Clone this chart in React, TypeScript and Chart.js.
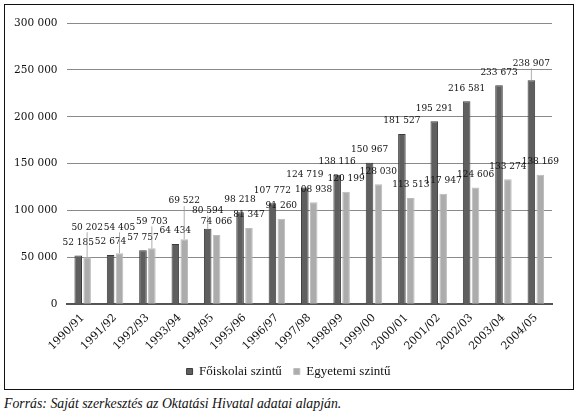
import React, { useEffect, useRef } from "react";
import { Chart, registerables } from "chart.js";

Chart.register(...registerables);

const categories = [
  "1990/91", "1991/92", "1992/93", "1993/94", "1994/95", "1995/96", "1996/97", "1997/98",
  "1998/99", "1999/00", "2000/01", "2001/02", "2002/03", "2003/04", "2004/05",
];
const foiskolai = [
  52185, 52674, 57757, 64434, 80594, 98218, 107772, 124719, 138116, 150967, 181527, 195291,
  216581, 233673, 238907,
];
const egyetemi = [
  50202, 54405, 59703, 69522, 74066, 81347, 91260, 108938, 120199, 128030, 113513, 117947,
  124606, 133274, 138169,
];
const yTicks = [0, 50000, 100000, 150000, 200000, 250000, 300000];
const seriesNames = ["Főiskolai szintű", "Egyetemi szintű"];

// extra label lift (styling only) for labels that were moved to avoid overlap
const labelLift = [
  [0, 0, 0, 0, 5, 0, 0, 0, 0, 0, 0, 0, 0, 0, 4],
  [17, 13, 14, 25, 0, 0, 0, 0, 0, 0, 0, 0, 0, 0, 0],
];

const SERIF2 = 'Liberation Serif, Times New Roman, DejaVu Serif, serif';
const SERIF1 = 'DejaVu Serif, serif';

const fmt = (v: number) => String(v).replace(/\B(?=(\d{3})+(?!\d))/g, " ");

const labelPlugin = {
  id: "valueLabels",
  afterLayout(chart: any) {
    // centre the legend on the whole box rather than the padded area
    if (chart.legend) {
      chart.legend.left += 10;
      chart.legend.right += 10;
    }
  },
  afterDatasetsDraw(chart: any) {
    const ctx = chart.ctx;
    ctx.save();
    ctx.font = "9px " + SERIF1;
    ctx.fillStyle = "#111";
    ctx.textAlign = "center";
    ctx.textBaseline = "middle";
    chart.data.datasets.forEach((ds: any, di: number) => {
      const meta = chart.getDatasetMeta(di);
      meta.data.forEach((el: any, i: number) => {
        const lift = labelLift[di][i] || 0;
        const y = el.y - 13 - lift;
        if (lift > 3) {
          ctx.strokeStyle = "#9a9a9a";
          ctx.lineWidth = 0.8;
          ctx.beginPath();
          ctx.moveTo(el.x, y + 5);
          ctx.lineTo(el.x, el.y);
          ctx.stroke();
        }
        ctx.fillText(fmt(ds.data[i]), el.x, y);
      });
    });
    ctx.restore();
  },
};

export default function App() {
  const ref = useRef<HTMLCanvasElement>(null);
  useEffect(() => {
    if (!ref.current) return;
    const chart = new Chart(ref.current, {
      type: "bar",
      data: {
        labels: categories,
        datasets: [
          {
            label: seriesNames[0],
            data: foiskolai,
            backgroundColor: "#5f5f5f",
            borderColor: "#3c3c3c",
            borderWidth: 1,
            categoryPercentage: 0.55,
            barPercentage: 0.85,
          },
          {
            label: seriesNames[1],
            data: egyetemi,
            backgroundColor: "#acacac",
            borderColor: "#bcbcbc",
            borderWidth: 1,
            categoryPercentage: 0.55,
            barPercentage: 0.85,
          },
        ],
      },
      options: {
        animation: false,
        responsive: false,
        font: { family: SERIF1 },
        layout: { padding: { top: 18, right: 20, left: 0, bottom: 0 } },
        plugins: {
          legend: {
            position: "bottom",
            labels: {
              boxWidth: 6,
              boxHeight: 6,
              padding: 12,
              color: "#111",
              font: { family: SERIF2, size: 13 },
            },
          },
          tooltip: { enabled: false },
        },
        scales: {
          x: {
            grid: { display: false, drawTicks: false },
            border: { display: true, color: "#555", width: 2 },
            afterFit: (scale: any) => {
              scale.height = scale.height - 7;
            },
            ticks: {
              maxRotation: 45,
              minRotation: 45,
              padding: 7,
              color: "#111",
              font: { family: SERIF1, size: 11 },
            },
          },
          y: {
            min: 0,
            max: 300000,
            afterBuildTicks: (scale: any) => {
              scale.ticks = yTicks.map((v) => ({ value: v }));
            },
            afterFit: (scale: any) => {
              scale.width = 61.5;
            },
            grid: { color: "#8a8a8a", lineWidth: 1, drawTicks: false },
            border: { display: false },
            ticks: {
              padding: 9,
              color: "#111",
              font: { family: SERIF1, size: 10.5 },
              callback: (v: any) => fmt(Number(v)),
            },
          },
        },
      },
      plugins: [labelPlugin],
    });
    return () => chart.destroy();
  }, []);

  return (
    <div
      style={{
        position: "absolute",
        left: 0,
        top: 0,
        width: 580,
        height: 420,
        background: "#fff",
      }}
    >
      <div
        style={{
          position: "absolute",
          left: 4,
          top: 4,
          width: 570,
          height: 386,
          border: "1.5px solid #111",
          boxSizing: "border-box",
        }}
      >
        <canvas ref={ref} width={567} height={383} style={{ display: "block", width: 567, height: 383 }} />
      </div>
      <div
        style={{
          position: "absolute",
          left: 4,
          top: 396,
          fontFamily: SERIF2,
          fontStyle: "italic",
          fontSize: 13.8,
          color: "#111",
          whiteSpace: "nowrap",
        }}
      >
        Forrás: Saját szerkesztés az Oktatási Hivatal adatai alapján.
      </div>
    </div>
  );
}
